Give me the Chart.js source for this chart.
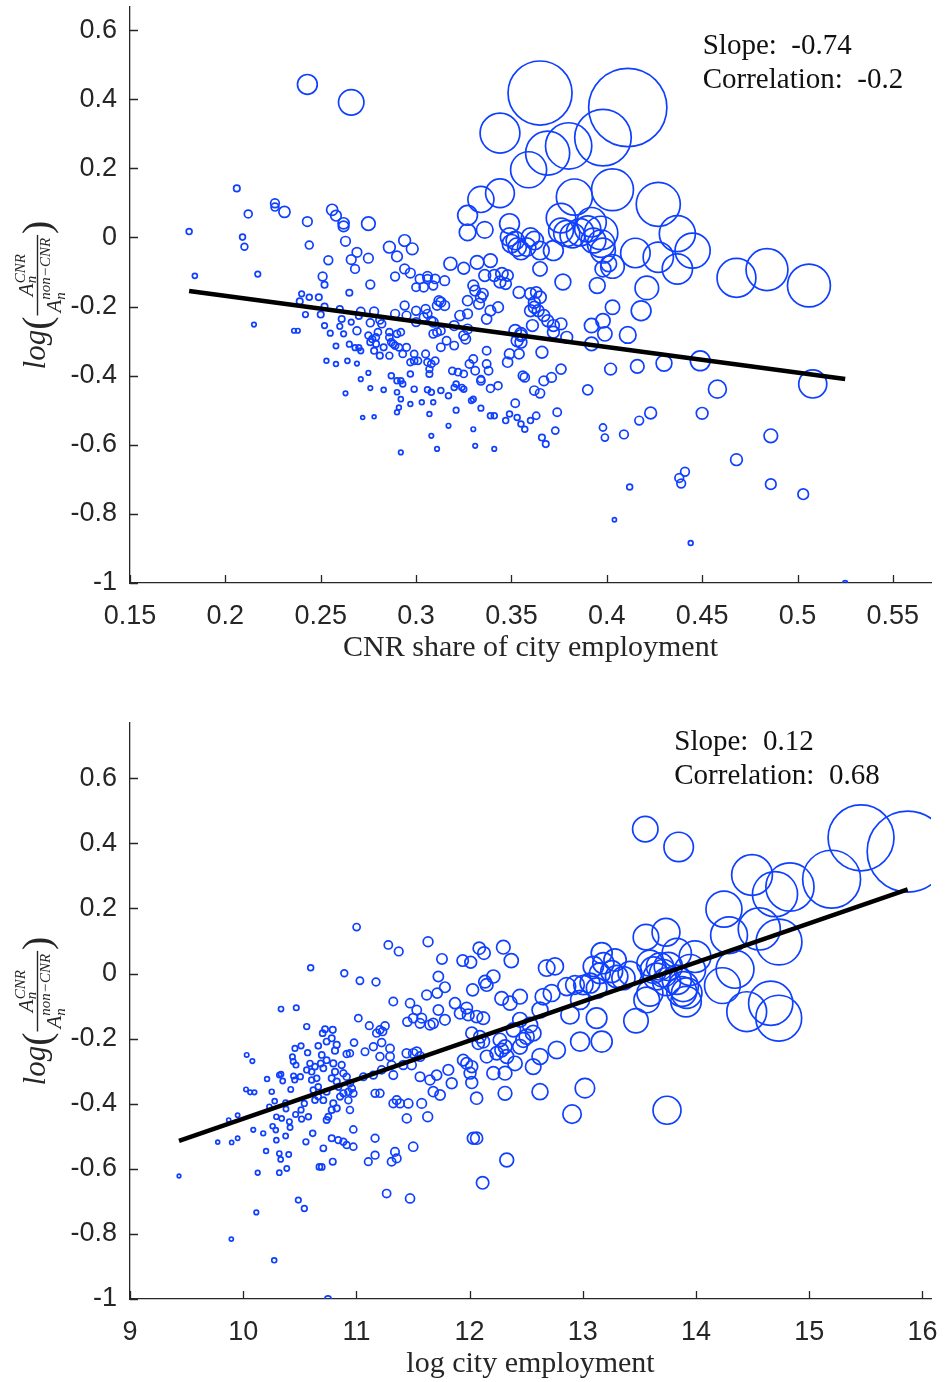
<!DOCTYPE html>
<html>
<head>
<meta charset="utf-8">
<script src="https://cdn.jsdelivr.net/npm/chart.js@4/dist/chart.umd.min.js"></script>
<style>
  body { margin: 0; background: #fff; }
  canvas { display: block; }
</style>
</head>
<body>
<canvas id="shareChart" width="948" height="666"></canvas>
<canvas id="empChart" width="948" height="716"></canvas>
<script>
// ---- CNR share of city employment vs log(A_CNR / A_nonCNR) ----
const shareX = [
  0.206, 0.181, 0.184, 0.209, 0.210, 0.212, 0.217, 0.215, 0.226, 0.226,
  0.231, 0.236, 0.238, 0.243, 0.244, 0.240, 0.239, 0.244, 0.249, 0.242,
  0.250, 0.254, 0.251, 0.252, 0.252, 0.252, 0.255, 0.253, 0.258, 0.258,
  0.256, 0.258, 0.262, 0.262, 0.263, 0.266, 0.269, 0.275, 0.268, 0.275,
  0.276, 0.265, 0.260, 0.261, 0.260, 0.262, 0.266, 0.265, 0.268, 0.270,
  0.271, 0.264, 0.269, 0.263, 0.275, 0.271, 0.276, 0.272, 0.278, 0.269,
  0.271, 0.270, 0.278, 0.276, 0.286, 0.294, 0.298, 0.290, 0.294, 0.297,
  0.289, 0.302, 0.306, 0.306, 0.310, 0.315, 0.309, 0.304, 0.300, 0.318,
  0.325, 0.332, 0.339, 0.336, 0.341, 0.345, 0.348, 0.344, 0.347, 0.330,
  0.331, 0.334, 0.327, 0.333, 0.339, 0.337, 0.343, 0.323, 0.327, 0.335,
  0.312, 0.313, 0.315, 0.311, 0.305, 0.306, 0.304, 0.308, 0.300, 0.300,
  0.294, 0.295, 0.289, 0.309, 0.320, 0.327, 0.325, 0.326, 0.354, 0.360,
  0.363, 0.365, 0.362, 0.362, 0.364, 0.367, 0.369, 0.372, 0.376, 0.379,
  0.372, 0.360, 0.361, 0.352, 0.355, 0.353, 0.355, 0.355, 0.366, 0.349,
  0.348, 0.354, 0.376, 0.371, 0.367, 0.362, 0.365, 0.356, 0.357, 0.352,
  0.374, 0.363, 0.373, 0.366, 0.368, 0.390, 0.402, 0.398, 0.399, 0.392,
  0.392, 0.398, 0.399, 0.403, 0.395, 0.377, 0.365, 0.398, 0.401, 0.281,
  0.282, 0.275, 0.277, 0.279, 0.280, 0.286, 0.286, 0.287, 0.288, 0.289,
  0.290, 0.292, 0.291, 0.276, 0.279, 0.278, 0.281, 0.283, 0.286, 0.293,
  0.295, 0.299, 0.299, 0.297, 0.301, 0.305, 0.306, 0.308, 0.307, 0.307,
  0.310, 0.309, 0.311, 0.313, 0.313, 0.316, 0.320, 0.319, 0.322, 0.325,
  0.328, 0.330, 0.331, 0.334, 0.337, 0.338, 0.337, 0.297, 0.292, 0.293,
  0.299, 0.287, 0.290, 0.283, 0.290, 0.292, 0.306, 0.308, 0.313, 0.317,
  0.320, 0.321, 0.324, 0.325, 0.334, 0.339, 0.343, 0.297, 0.303, 0.309,
  0.291, 0.290, 0.307, 0.321, 0.329, 0.330, 0.334, 0.339, 0.341, 0.347,
  0.349, 0.353, 0.355, 0.357, 0.360, 0.317, 0.330, 0.331, 0.341, 0.311,
  0.308, 0.292, 0.365, 0.411, 0.344, 0.398, 0.380, 0.369, 0.359, 0.403,
  0.383, 0.427, 0.344, 0.334, 0.327, 0.327, 0.336, 0.349, 0.376, 0.392,
  0.397, 0.376, 0.379, 0.382, 0.386, 0.390, 0.393, 0.397, 0.398, 0.437,
  0.445, 0.437, 0.427, 0.415, 0.468, 0.484, 0.506, 0.403, 0.421, 0.372,
  0.362, 0.360, 0.365, 0.358, 0.355, 0.353, 0.350, 0.352, 0.349, 0.243,
  0.266, 0.418, 0.411, 0.416, 0.430, 0.449, 0.458, 0.508, 0.423, 0.417,
  0.409, 0.450, 0.486, 0.468, 0.486, 0.503, 0.438, 0.441, 0.439, 0.412,
  0.404, 0.444, 0.525
];
const shareY = [
  0.142, 0.017, -0.111, 0.001, -0.027, 0.068, -0.106, -0.252, 0.099, 0.088,
  0.074, -0.270, -0.270, 0.046, -0.022, -0.163, -0.185, -0.173, -0.173, -0.223,
  -0.223, -0.066, -0.113, -0.137, -0.200, -0.255, -0.277, -0.357, -0.366, -0.314,
  0.080, 0.063, 0.041, 0.032, -0.011, -0.064, -0.043, -0.060, -0.091, 0.040,
  -0.136, -0.160, -0.207, -0.236, -0.257, -0.279, -0.245, -0.309, -0.319, -0.319,
  -0.328, -0.357, -0.365, -0.451, -0.392, -0.410, -0.436, -0.521, -0.519, -0.270,
  -0.214, -0.227, -0.214, -0.247, -0.028, -0.009, -0.033, -0.055, -0.091, -0.103,
  -0.113, -0.120, -0.113, -0.120, -0.120, -0.125, -0.139, -0.144, -0.144, -0.076,
  -0.089, -0.072, -0.067, -0.110, -0.110, -0.105, -0.110, -0.129, -0.134, -0.139,
  -0.154, -0.173, -0.183, -0.192, -0.212, -0.236, -0.202, -0.226, -0.221, -0.163,
  -0.183, -0.187, -0.197, -0.197, -0.207, -0.221, -0.231, -0.241, -0.212, -0.245,
  -0.197, -0.226, -0.221, -0.245, -0.255, -0.265, -0.284, -0.294, -0.159, -0.163,
  -0.159, -0.173, -0.188, -0.202, -0.212, -0.226, -0.241, -0.255, -0.250, -0.289,
  -0.274, -0.212, -0.255, -0.270, -0.279, -0.299, -0.303, -0.284, -0.332, -0.337,
  -0.361, -0.337, -0.381, -0.405, -0.415, -0.443, -0.451, -0.400, -0.405, -0.480,
  -0.506, -0.516, -0.559, -0.579, -0.598, -0.441, -0.381, -0.550, -0.579, -0.308,
  -0.255, -0.241, -0.279, -0.202, -0.139, -0.129, -0.091, -0.091, -0.076, -0.239,
  -0.250, -0.284, -0.294, -0.289, -0.274, -0.274, -0.289, -0.303, -0.308, -0.313,
  -0.279, -0.274, -0.318, -0.303, -0.308, -0.328, -0.342, -0.318, -0.342, -0.337,
  -0.318, -0.337, -0.357, -0.361, -0.357, -0.337, -0.361, -0.366, -0.381, -0.395,
  -0.357, -0.279, -0.274, -0.318, -0.270, -0.299, -0.313, -0.386, -0.390, -0.395,
  -0.366, -0.352, -0.386, -0.415, -0.366, -0.386, -0.328, -0.395, -0.415, -0.424,
  -0.439, -0.400, -0.415, -0.441, -0.448, -0.468, -0.441, -0.448, -0.443, -0.458,
  -0.434, -0.424, -0.434, -0.439, -0.410, -0.437, -0.429, -0.482, -0.477, -0.477,
  -0.492, -0.506, -0.511, -0.500, -0.472, -0.468, -0.494, -0.516, -0.516, -0.530,
  -0.511, -0.521, -0.540, -0.555, -0.530, -0.545, -0.555, -0.603, -0.612, -0.612,
  -0.574, -0.622, 0.418, 0.376, 0.302, 0.289, 0.265, 0.244, 0.196, 0.138,
  0.117, 0.096, 0.128, 0.110, 0.064, 0.015, 0.022, 0.040, 0.056, 0.044,
  0.013, 0.020, 0.012, 0.006, 0.015, 0.025, -0.009, -0.018, -0.038, 0.011,
  -0.038, -0.091, -0.057, -0.045, -0.117, -0.093, -0.139, -0.084, -0.146, -0.038,
  -0.009, 0.001, -0.038, -0.028, -0.038, -0.028, -0.018, -0.009, 0.001, 0.443,
  0.391, -0.212, -0.282, -0.373, -0.364, -0.357, -0.439, -0.424, -0.508, -0.530,
  -0.570, -0.509, -0.574, -0.643, -0.714, -0.743, -0.696, -0.678, -0.712, -0.722,
  -0.817, -0.884, -1.000
];
// log city employment of each city, sets the bubble size
const shareEmp = [
  10.8, 10.6, 10.3, 10.6, 10.9, 11.2, 10.5, 10.1, 11.4, 11.2,
  11.9, 10.1, 10.1, 11.6, 11.2, 10.5, 10.8, 10.6, 10.8, 10.5,
  10.8, 11.4, 11.4, 10.8, 10.8, 10.5, 10.5, 10.2, 10.2, 10.4,
  11.9, 11.8, 11.9, 11.8, 11.6, 11.6, 11.6, 11.6, 11.4, 12.3,
  11.4, 10.8, 10.8, 10.8, 10.5, 10.5, 10.5, 10.5, 10.5, 10.5,
  10.5, 10.3, 10.1, 10.1, 10.1, 10.1, 10.1, 9.8, 9.8, 11.2,
  11.3, 10.8, 11.4, 11.2, 12.0, 12.0, 12.0, 11.8, 11.6, 11.6,
  11.4, 11.5, 11.6, 11.4, 11.5, 11.6, 11.4, 11.5, 11.3, 12.2,
  12.0, 12.3, 12.3, 12.0, 12.0, 12.1, 11.9, 12.0, 11.9, 11.8,
  11.8, 11.8, 11.7, 11.8, 11.8, 11.7, 11.8, 11.7, 11.6, 11.8,
  11.6, 11.6, 11.6, 11.5, 11.4, 11.4, 11.4, 11.4, 11.4, 11.4,
  11.4, 11.4, 11.4, 11.6, 11.6, 11.6, 11.6, 11.6, 12.0, 12.0,
  11.9, 12.1, 12.0, 12.0, 12.0, 12.0, 12.0, 12.0, 12.0, 12.0,
  12.0, 12.0, 12.0, 12.1, 12.1, 12.0, 12.0, 12.0, 12.0, 11.7,
  11.7, 11.7, 11.7, 11.6, 11.6, 11.5, 11.5, 11.5, 11.5, 11.3,
  11.3, 11.0, 11.0, 10.8, 10.8, 11.7, 12.0, 11.0, 11.0, 12.3,
  12.4, 12.4, 12.4, 12.4, 12.6, 12.6, 12.4, 12.6, 12.6, 11.2,
  11.2, 10.9, 10.9, 10.9, 11.0, 11.0, 11.0, 11.0, 11.0, 11.0,
  11.0, 11.0, 11.0, 10.8, 10.8, 10.8, 10.8, 10.8, 10.9, 11.0,
  11.1, 11.0, 11.0, 10.9, 11.0, 11.1, 11.0, 11.0, 10.9, 10.8,
  11.1, 11.3, 11.3, 11.3, 11.3, 11.3, 11.3, 11.0, 11.0, 11.0,
  11.3, 11.3, 11.3, 11.3, 11.3, 11.3, 11.3, 10.6, 10.6, 10.6,
  10.6, 10.6, 10.6, 10.3, 10.3, 10.3, 10.6, 10.6, 10.6, 10.6,
  10.6, 10.6, 10.6, 10.6, 11.0, 11.2, 11.2, 10.2, 10.2, 10.2,
  10.2, 10.2, 10.2, 10.5, 10.5, 10.5, 10.5, 10.6, 10.6, 10.6,
  10.6, 10.6, 10.6, 10.6, 10.6, 10.1, 10.1, 10.1, 10.1, 10.1,
  10.1, 10.1, 15.4, 15.8, 14.45, 15.15, 14.75, 14.65, 14.25, 14.55,
  14.25, 14.65, 13.8, 13.6, 13.05, 12.7, 12.7, 13.05, 13.85, 13.85,
  14.1, 13.5, 13.6, 13.5, 13.7, 13.6, 13.5, 13.7, 13.5, 14.25,
  14.2, 13.9, 13.9, 13.85, 14.4, 14.55, 14.6, 13.4, 13.4, 13.05,
  12.9, 12.9, 12.9, 12.9, 12.9, 12.9, 12.9, 12.9, 12.9, 13.05,
  13.55, 13.05, 12.7, 12.3, 12.6, 13.05, 12.85, 13.75, 12.0, 11.4,
  11.4, 12.0, 12.3, 12.0, 11.8, 11.8, 11.4, 11.4, 11.4, 10.6,
  9.9, 10.2, 10.2
];

// ---- log city employment vs log(A_CNR / A_nonCNR) ----
const empX = [
  9.433, 9.775, 9.872, 9.898, 9.951, 9.951, 9.895, 10.031, 10.081, 10.025,
  10.061, 10.099, 10.089, 10.128, 10.116, 10.177, 10.202, 10.211, 10.231, 10.252,
  10.260, 10.278, 10.288, 10.293, 10.293, 10.319, 10.331, 10.319, 10.274, 10.334,
  10.469, 10.319, 10.334, 10.349, 10.340, 10.375, 10.375, 10.378, 10.385, 10.402,
  10.408, 10.414, 10.420, 10.435, 10.442, 10.445, 10.455, 10.457, 10.466, 10.463,
  10.487, 10.511, 10.505, 10.511, 10.516, 10.540, 10.540, 10.554, 10.561, 10.569,
  10.576, 10.561, 10.590, 10.605, 10.634, 10.649, 10.605, 10.619, 10.634, 10.663,
  10.663, 10.614, 10.673, 10.596,
  10.749,
  11.002, 11.282, 11.374, 11.633, 10.893, 11.031, 11.173, 11.756, 11.939, 12.010,
  12.085, 12.127, 12.298, 12.368, 11.724, 11.782, 11.714, 11.621, 12.027, 12.210,
  12.136, 12.151, 12.445, 12.283, 12.357, 11.326, 11.474, 11.533, 11.502, 11.577,
  11.562, 11.650, 11.679, 11.724, 11.782, 11.871, 11.916, 11.974, 11.988, 12.062,
  12.121, 11.450, 11.017, 11.114, 11.208, 11.253, 11.232, 11.179, 11.150, 11.223,
  11.297, 11.208, 11.297, 10.979, 10.914, 10.943, 11.076,
  10.723, 10.702, 10.782, 10.737, 10.826, 10.791, 10.811, 10.663, 10.694, 10.685,
  10.708, 10.737, 10.796, 10.811, 10.782, 10.870, 10.885, 10.914, 10.826, 10.841,
  10.943, 10.959, 10.929, 10.885, 10.856, 10.973, 10.929, 10.943, 10.737, 10.708,
  10.796, 10.782, 10.752, 10.826, 10.737,
  11.062, 11.150, 11.223, 11.311, 11.326, 11.414, 11.444, 11.502, 11.533, 11.562,
  11.488, 11.165, 11.208, 11.356, 11.385, 11.326, 11.459, 11.562, 11.650, 11.709,
  11.812, 11.842, 11.944, 11.974, 12.019, 12.004, 12.019, 12.062, 11.739, 11.679,
  11.577, 11.445, 11.630,
  10.973, 10.914, 10.885, 10.840, 10.782, 10.708, 10.694, 10.791, 10.973, 11.165,
  11.105, 11.165, 11.311, 11.356, 11.502, 11.341, 12.033, 12.062, 12.328, 12.115,
  11.267, 11.474,
  12.622, 12.651, 12.681, 12.562, 12.622, 12.622, 12.504, 12.445, 12.534, 12.562,
  12.387, 12.474, 12.445, 12.239, 12.283, 12.313, 12.328, 12.401, 12.268, 12.151,
  12.210, 12.313, 12.313, 12.091, 12.121, 12.077, 12.019,
  15.458, 15.870, 15.198, 14.495, 14.830, 14.698, 14.247, 14.559, 14.292, 14.733,
  13.552, 13.847, 13.558, 13.735, 14.345, 14.233, 14.448, 14.660, 14.731, 13.991,
  13.830, 13.947, 13.918, 13.912, 13.682, 13.711, 13.653, 13.624, 13.593, 13.740,
  13.755, 13.830, 13.888, 13.874, 13.593, 13.565, 13.470, 13.417, 13.359, 13.299,
  13.285, 13.167, 13.182, 13.093, 13.255, 13.151, 13.064, 13.122, 13.005, 12.931,
  12.858, 12.976, 12.887, 13.122, 12.976, 13.167, 12.754, 12.725, 12.770, 12.905,
  13.019, 13.744
];
const empY = [
  -0.622, -0.518, -0.450, -0.519, -0.435, -0.506, -0.816, -0.250, -0.269, -0.356,
  -0.365, -0.365, -0.480, -0.612, -0.734, -0.491, -0.545, -0.324, -0.409, -0.363,
  -0.469, -0.392, -0.481, -0.512, -0.440, -0.553, -0.571, -0.612, -0.881, -0.109,
  -0.105, -0.312, -0.309, -0.330, -0.445, -0.397, -0.499, -0.416, -0.599, -0.556,
  -0.455, -0.473, -0.356, -0.256, -0.270, -0.315, -0.327, -0.230, -0.281, -0.433,
  -0.696, -0.222, -0.317, -0.419, -0.447, -0.722, -0.399, -0.517, -0.163, -0.243,
  -0.440, -0.296, -0.276, -0.302, -0.286, -0.322, -0.327, -0.358, -0.389, -0.348,
  -0.378, -0.491, -0.594, 0.018,
  -1.000,
  0.143, 0.088, 0.068, 0.098, 0.001, -0.022, -0.026, 0.045, 0.040, 0.035,
  0.078, 0.063, 0.081, 0.040, -0.009, -0.042, -0.060, -0.066, -0.050, -0.009,
  -0.025, -0.035, -0.071, -0.076, -0.091, -0.086, -0.091, -0.112, -0.137, -0.137,
  -0.153, -0.158, -0.153, -0.112, -0.142, -0.091, -0.122, -0.106, -0.127, -0.132,
  -0.137, -0.148, -0.137, -0.160, -0.173, -0.161, -0.178, -0.183, -0.225, -0.212,
  -0.230, -0.255, -0.255, -0.212, -0.247, -0.245, -0.240,
  -0.171, -0.183, -0.199, -0.209, -0.219, -0.173, -0.237, -0.222, -0.250, -0.276,
  -0.291, -0.266, -0.276, -0.302, -0.322, -0.281, -0.306, -0.317, -0.332, -0.348,
  -0.337, -0.353, -0.363, -0.368, -0.378, -0.368, -0.389, -0.419, -0.363, -0.389,
  -0.399, -0.419, -0.440, -0.414, -0.450,
  -0.317, -0.312, -0.296, -0.281, -0.312, -0.281, -0.245, -0.245, -0.240, -0.255,
  -0.281, -0.368, -0.368, -0.389, -0.399, -0.399, -0.399, -0.317, -0.327, -0.312,
  -0.296, -0.337, -0.266, -0.276, -0.286, -0.306, -0.335, -0.383, -0.373, -0.363,
  -0.399, -0.445, -0.440,
  -0.479, -0.527, -0.517, -0.512, -0.506, -0.537, -0.594, -0.578, -0.532, -0.506,
  -0.578, -0.558, -0.578, -0.568, -0.532, -0.548, -0.506, -0.506, -0.573, -0.643,
  -0.676, -0.691,
  -0.112, -0.071, 0.017, -0.286, -0.363, -0.255, -0.194, -0.142, -0.158, -0.183,
  -0.173, -0.204, -0.225, -0.245, -0.235, -0.225, -0.255, -0.276, -0.204, -0.255,
  -0.306, -0.306, -0.368, -0.194, -0.209, -0.214, -0.183,
  0.417, 0.375, 0.290, 0.303, 0.266, 0.244, 0.198, 0.137, 0.118, 0.097,
  0.444, 0.389, 0.112, 0.127, 0.013, -0.037, -0.117, -0.091, -0.137, 0.052,
  0.063, 0.011, -0.060, -0.086, 0.022, 0.001, -0.009, 0.011, 0.032, -0.025,
  0.022, -0.019, -0.040, -0.055, -0.060, -0.081, -0.145, 0.001, -0.014, -0.009,
  0.042, 0.063, 0.032, 0.022, 0.006, 0.001, -0.029, -0.045, -0.035, -0.035,
  -0.040, -0.081, -0.127, -0.137, -0.209, -0.209, 0.022, -0.060, -0.235, -0.432,
  -0.352, -0.420
];

// fitted lines and correlations
const shareSlope = -0.74, shareIntercept = -0.021, shareCorr = -0.2;
const empSlope = 0.12, empIntercept = -1.646, empCorr = 0.68;

// tick values
const shareTicks = [0.15, 0.2, 0.25, 0.3, 0.35, 0.4, 0.45, 0.5, 0.55];
const empTicks = [9, 10, 11, 12, 13, 14, 15, 16];
const ratioTicks = [-1, -0.8, -0.6, -0.4, -0.2, 0, 0.2, 0.4, 0.6];

const BLUE = 'rgb(16, 64, 255)';
const AXIS = '#262626';
const SERIF = '"Liberation Serif", "Times New Roman", serif';

// bubble area grows with city employment
const bubbleRadius = logEmp => Math.max(1.8, 0.0145 * Math.exp(logEmp / 2));

function fitLine(xs, slope, intercept) {
  const lo = Math.min(...xs), hi = Math.max(...xs);
  return [lo, hi].map(x => ({ x, y: intercept + slope * x }));
}

// log( A_n^CNR / A_n^{non-CNR} ), rotated
function drawRatioLabel(ctx, cx, cy) {
  const fLog = 'italic 31px ' + SERIF;
  const fParen = '40px ' + SERIF;
  const fBase = 'italic 21px ' + SERIF;
  const fScript = 'italic 15px ' + SERIF;
  const width = (font, s) => { ctx.font = font; return ctx.measureText(s).width; };
  const put = (font, s, x, y) => { ctx.font = font; ctx.fillText(s, x, y); };

  ctx.save();
  ctx.translate(cx, cy);
  ctx.rotate(-Math.PI / 2);
  ctx.fillStyle = AXIS;
  ctx.strokeStyle = AXIS;
  ctx.textBaseline = 'alphabetic';

  const wLog = width(fLog, 'log');
  const wParen = width(fParen, '(');
  const wA = width(fBase, 'A');
  const wNum = wA + Math.max(width(fScript, 'CNR'), width(fScript, 'n'));
  const wDen = wA + Math.max(width(fScript, 'non\u2212CNR'), width(fScript, 'n'));
  const wFrac = Math.max(wNum, wDen) + 6;
  const total = wLog + 2 * wParen + wFrac + 2;

  let x = -total / 2;
  put(fLog, 'log', x, 0);
  x += wLog;
  put(fParen, '(', x, 5);
  x += wParen + 1;

  ctx.lineWidth = 1.4;
  ctx.beginPath();
  ctx.moveTo(x, -7.5);
  ctx.lineTo(x + wFrac, -7.5);
  ctx.stroke();

  const nx = x + (wFrac - wNum) / 2;
  put(fBase, 'A', nx, -12.5);
  put(fScript, 'CNR', nx + wA, -20);
  put(fScript, 'n', nx + wA, -9);

  const dx = x + (wFrac - wDen) / 2;
  put(fBase, 'A', dx, 15.5);
  put(fScript, 'non\u2212CNR', dx + wA, 5);
  put(fScript, 'n', dx + wA, 19.5);

  x += wFrac + 1;
  put(fParen, ')', x, 5);
  ctx.restore();
}

// inward ticks, fit summary text and the y label
const axesFrame = {
  id: 'axesFrame',
  afterDraw(chart, args, opts) {
    const { ctx, chartArea: a, scales: { x, y } } = chart;
    ctx.save();
    ctx.strokeStyle = AXIS;
    ctx.lineWidth = 1.3;
    ctx.beginPath();
    x.ticks.forEach(t => {
      const px = Math.round(x.getPixelForValue(t.value)) + 0.5;
      ctx.moveTo(px, a.bottom);
      ctx.lineTo(px, a.bottom - 8);
    });
    y.ticks.forEach(t => {
      const py = Math.round(y.getPixelForValue(t.value)) + 0.5;
      ctx.moveTo(a.left, py);
      ctx.lineTo(a.left + 8, py);
    });
    ctx.stroke();

    ctx.fillStyle = '#111';
    ctx.font = '29px ' + SERIF;
    ctx.textBaseline = 'alphabetic';
    ctx.textAlign = 'left';
    const nx = x.getPixelForValue(opts.noteX);
    const ny = y.getPixelForValue(opts.noteY);
    ctx.fillText('Slope:  ' + opts.slope.toFixed(2), nx, ny);
    ctx.fillText('Correlation:  ' + String(opts.corr), nx, ny + 34);
    ctx.restore();

    drawRatioLabel(ctx, 45, (a.top + a.bottom) / 2);
  }
};

function buildChart(id, cfg) {
  return new Chart(document.getElementById(id), {
    type: 'bubble',
    data: {
      datasets: [
        {
          type: 'line',
          data: cfg.line,
          borderColor: '#000',
          borderWidth: 4.5,
          pointRadius: 0,
          fill: false,
          order: 0
        },
        {
          data: cfg.points,
          borderColor: BLUE,
          backgroundColor: 'rgba(0,0,0,0)',
          borderWidth: 1.7,
          order: 1
        }
      ]
    },
    options: {
      responsive: false,
      animation: false,
      devicePixelRatio: 1,
      events: [],
      layout: { autoPadding: false, padding: { top: cfg.top, right: 17, bottom: 0, left: 0 } },
      plugins: {
        legend: { display: false },
        tooltip: { enabled: false },
        axesFrame: { noteX: cfg.noteX, noteY: cfg.noteY, slope: cfg.slope, corr: cfg.corr }
      },
      scales: {
        x: {
          type: 'linear',
          min: cfg.xMin,
          max: cfg.xMax,
          afterBuildTicks: s => { s.ticks = cfg.xTicks.map(v => ({ value: v })); },
          afterFit: s => { s.height = 83; s.paddingLeft = 0; s.paddingRight = 0; },
          grid: { display: false, drawTicks: false },
          border: { display: true, color: AXIS, width: 1.3 },
          ticks: {
            padding: 17,
            color: AXIS,
            autoSkip: false,
            maxRotation: 0,
            font: { family: 'Liberation Sans', size: 27 },
            callback: v => String(v)
          },
          title: {
            display: true,
            text: cfg.xTitle,
            color: AXIS,
            font: { family: 'Liberation Serif', size: 30 },
            padding: { top: 0, bottom: 0 }
          }
        },
        y: {
          type: 'linear',
          min: -1,
          max: cfg.yMax,
          afterBuildTicks: s => { s.ticks = ratioTicks.map(v => ({ value: v })); },
          afterFit: s => { s.width = 130; s.paddingTop = 0; s.paddingBottom = 0; },
          grid: { display: false, drawTicks: false },
          border: { display: true, color: AXIS, width: 1.3 },
          ticks: {
            padding: 13,
            color: AXIS,
            autoSkip: false,
            font: { family: 'Liberation Sans', size: 27 },
            callback: v => String(v)
          }
        }
      }
    },
    plugins: [axesFrame]
  });
}

buildChart('shareChart', {
  points: shareX.map((x, i) => ({ x, y: shareY[i], r: bubbleRadius(shareEmp[i]) })),
  line: fitLine(shareX, shareSlope, shareIntercept),
  slope: shareSlope,
  corr: shareCorr,
  noteX: 0.4503,
  noteY: 0.532,
  xMin: 0.15,
  xMax: 0.57,
  yMax: 0.667,
  xTicks: shareTicks,
  xTitle: 'CNR share of city employment',
  top: 7
});

buildChart('empChart', {
  points: empX.map((x, i) => ({ x, y: empY[i], r: bubbleRadius(x) })),
  line: fitLine(empX, empSlope, empIntercept),
  slope: empSlope,
  corr: empCorr,
  noteX: 13.808,
  noteY: 0.686,
  xMin: 9,
  xMax: 16.076,
  yMax: 0.77,
  xTicks: empTicks,
  xTitle: 'log city employment',
  top: 57
});
</script>
</body>
</html>
